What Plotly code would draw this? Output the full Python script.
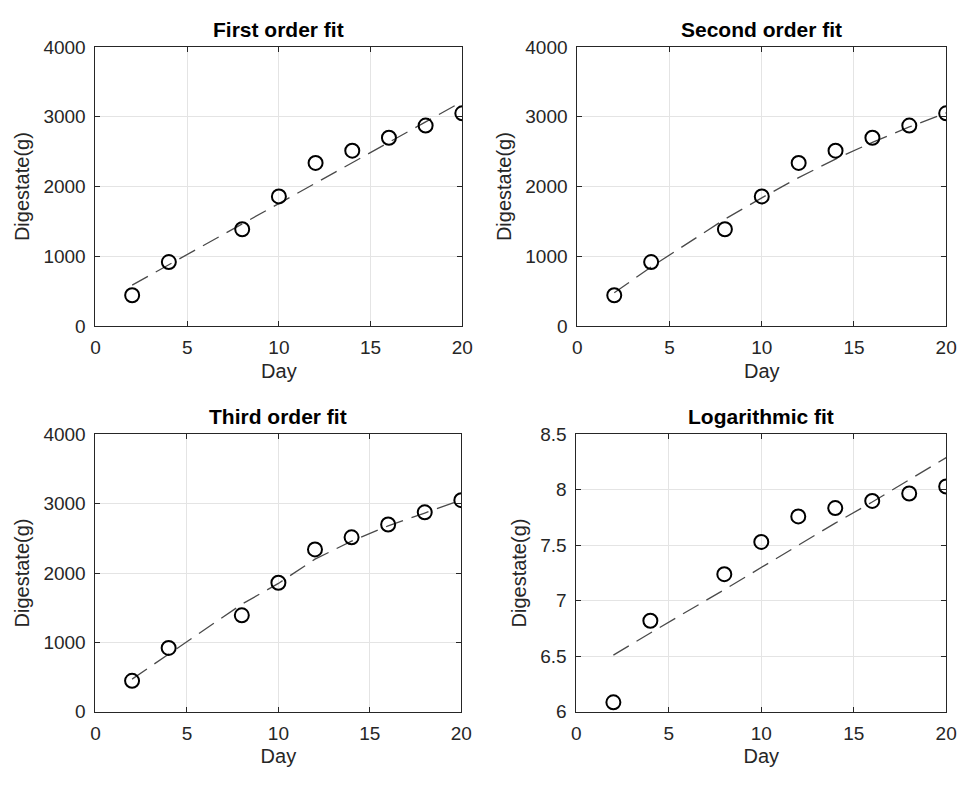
import plotly.graph_objects as go

# ---- data ----
days = [2, 4, 8, 10, 12, 14, 16, 18, 20]
digestate = [445, 920, 1390, 1860, 2340, 2515, 2700, 2875, 3050]
log_digestate = [6.085, 6.82, 7.24, 7.53, 7.76, 7.835, 7.90, 7.967, 8.03]

fit_first = [590, 883, 1467, 1759, 2051, 2343, 2635, 2927, 3219]
fit_second = [480, 850, 1535, 1840, 2130, 2395, 2635, 2855, 3055]
fit_third = [470, 830, 1550, 1850, 2200, 2460, 2680, 2865, 3055]
fit_log = [6.51, 6.71, 7.10, 7.30, 7.50, 7.70, 7.89, 8.09, 8.29]

titles = ["First order fit", "Second order fit", "Third order fit", "Logarithmic fit"]
x_ticks = [0, 5, 10, 15, 20]
y_ticks_lin = [0, 1000, 2000, 3000, 4000]
y_ticks_log = [6, 6.5, 7, 7.5, 8, 8.5]

W, H = 968, 785
panels = [
    # (x0, x1, ytop, ybot) in pixels
    (92, 465, 38, 325),
    (582, 957, 38, 325),
    (92, 464, 436, 721),
    (581, 957, 436, 721),
]
series = [
    (digestate, fit_first, [0, 4000], y_ticks_lin),
    (digestate, fit_second, [0, 4000], y_ticks_lin),
    (digestate, fit_third, [0, 4000], y_ticks_lin),
    (log_digestate, fit_log, [6, 8.5], y_ticks_log),
]

FONT = "Liberation Sans, Arial, Helvetica, sans-serif"
TXT = "#262626"
fig = go.Figure()
layout = dict(
    width=W, height=H, margin=dict(l=0, r=0, t=0, b=0),
    paper_bgcolor="white", plot_bgcolor="white", showlegend=False,
    font=dict(family=FONT, size=19, color=TXT),
    annotations=[],
)

for i, ((px0, px1, pyt, pyb), (yd, yf, yr, yt)) in enumerate(zip(panels, series)):
    n = "" if i == 0 else str(i + 1)
    xa, ya = "x" + n, "y" + n
    fig.add_trace(go.Scatter(
        x=days, y=yf, mode="lines", xaxis=xa, yaxis=ya,
        line=dict(color="#4a4a4a", width=1.3, dash="18px,9px"),
        hoverinfo="skip"))
    fig.add_trace(go.Scatter(
        x=days, y=yd, mode="markers", xaxis=xa, yaxis=ya,
        marker=dict(symbol="circle-open", size=14, color="black",
                    line=dict(width=2, color="black"))))
    common = dict(
        showline=True, mirror="ticks", linecolor=TXT, linewidth=1,
        showgrid=True, gridcolor="#e4e4e4", gridwidth=1,
        ticks="inside", ticklen=5, tickcolor=TXT,
        zeroline=False, tickfont=dict(size=19, family=FONT, color=TXT),
    )
    layout["xaxis" + n] = dict(
        common, domain=[px0 / W, px1 / W], anchor=ya, range=[0, 20],
        tickvals=x_ticks, ticklabelstandoff=4,
        title=dict(text="Day", font=dict(size=20, family=FONT, color=TXT), standoff=6),
    )
    layout["yaxis" + n] = dict(
        common, domain=[1 - pyb / H, 1 - pyt / H], anchor=xa, range=yr,
        tickvals=yt, ticklabelstandoff=5,
        title=dict(text="Digestate(g)", font=dict(size=20, family=FONT, color=TXT), standoff=8),
    )
    layout["annotations"].append(dict(
        text="<b>" + titles[i] + "</b>", xref="paper", yref="paper",
        x=(px0 + px1) / 2 / W, y=1 - (pyt - 18) / H, xanchor="center", yanchor="middle",
        showarrow=False, font=dict(size=21, family=FONT, color="black")))

fig.update_layout(**layout)
fig.write_html("out.html", config={"displayModeBar": False},
               post_script="document.body.style.margin='0';document.body.style.overflow='hidden';")
